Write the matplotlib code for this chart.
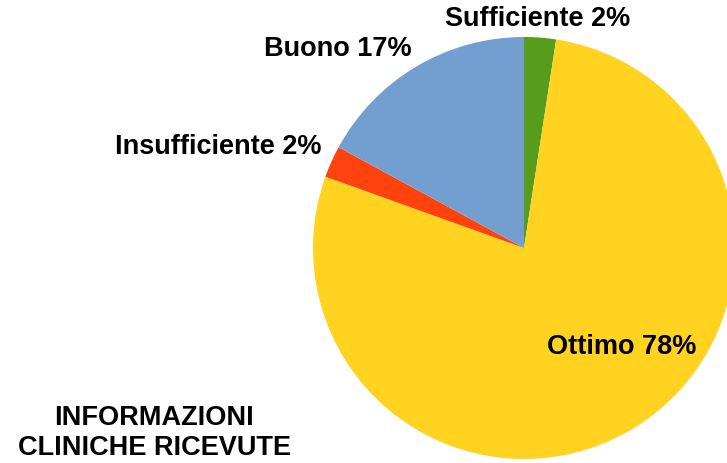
import matplotlib
matplotlib.use("Agg")
import matplotlib.pyplot as plt

categories = ["Sufficiente", "Ottimo", "Insufficiente", "Buono"]
counts = [1, 32, 1, 7]
colors = ["#579D1C", "#FFD320", "#FF420E", "#729FCF"]
label_pos = [(538, 19), (622, 347), (218, 147), (338, 49)]

plt.rcParams['font.family'] = ['Liberation Sans', 'DejaVu Sans']

W, H = 727, 463
fig = plt.figure(figsize=(W / 100, H / 100), dpi=100)
cx, cy, r = 524, 248, 211
ax = fig.add_axes([(cx - r) / W, (H - cy - r) / H, 2 * r / W, 2 * r / H])
ax.pie(counts, colors=colors, startangle=90, counterclock=False, radius=1,
       wedgeprops=dict(linewidth=0))
ax.set_xlim(-1, 1)
ax.set_ylim(-1, 1)
ax.set_aspect('equal')
ax.axis('off')

total = sum(counts)
for cat, c, (px, py) in zip(categories, counts, label_pos):
    pct = round(100 * c / total)
    fig.text(px / W, 1 - py / H, f"{cat} {pct}%", ha='center', va='center',
             fontsize=19.5, fontweight='bold', color='black')

fig.text(154 / W, 1 - 433 / H, "INFORMAZIONI\nCLINICHE RICEVUTE", ha='center',
         va='center', fontsize=19.5, fontweight='bold', linespacing=1.2)

fig.savefig("out.png", dpi=100)
